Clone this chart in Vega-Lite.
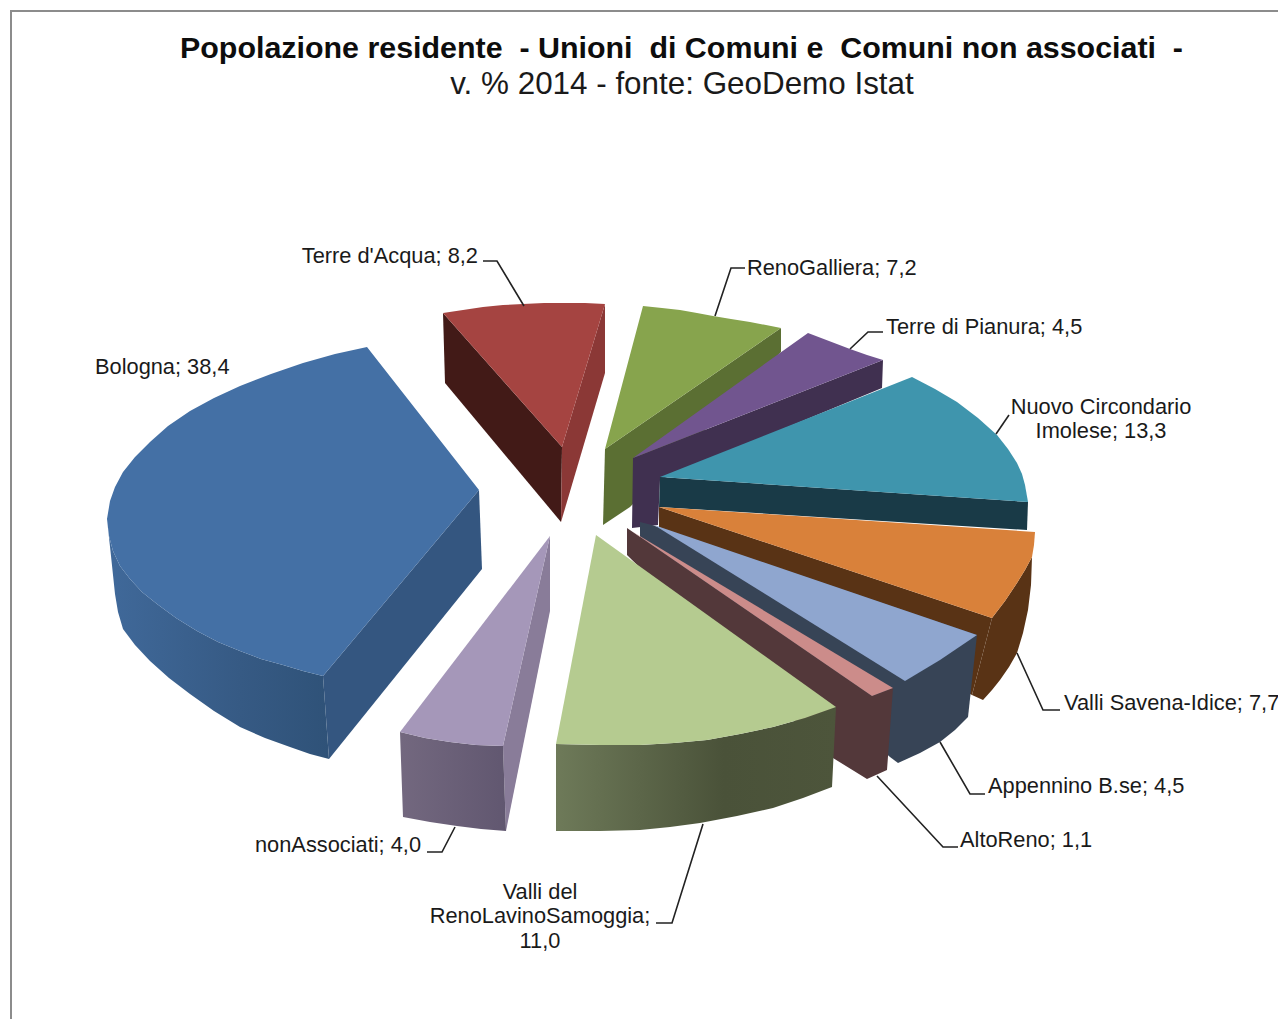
{
  "$schema": "https://vega.github.io/schema/vega-lite/v6.json",
  "width": 1278,
  "height": 1019,
  "padding": 0,
  "autosize": "none",
  "background": "white",
  "view": {"stroke": null},
  "datasets": {
    "faces": [
      {"face":"Terre d'Acqua lato","seq":1,"x":443,"y":313},{"face":"Terre d'Acqua lato","seq":2,"x":562,"y":447},{"face":"Terre d'Acqua lato","seq":3,"x":561,"y":522},{"face":"Terre d'Acqua lato","seq":4,"x":445,"y":383},
      {"face":"Terre d'Acqua taglio","seq":1,"x":605,"y":304},{"face":"Terre d'Acqua taglio","seq":2,"x":562,"y":447},{"face":"Terre d'Acqua taglio","seq":3,"x":561,"y":522},{"face":"Terre d'Acqua taglio","seq":4,"x":605,"y":373},
      {"face":"Terre d'Acqua","seq":1,"x":443,"y":313},{"face":"Terre d'Acqua","seq":2,"x":463,"y":310},{"face":"Terre d'Acqua","seq":3,"x":483,"y":307},{"face":"Terre d'Acqua","seq":4,"x":503,"y":305},{"face":"Terre d'Acqua","seq":5,"x":523,"y":304},{"face":"Terre d'Acqua","seq":6,"x":544,"y":303},{"face":"Terre d'Acqua","seq":7,"x":565,"y":303},{"face":"Terre d'Acqua","seq":8,"x":585,"y":303},{"face":"Terre d'Acqua","seq":9,"x":605,"y":304},{"face":"Terre d'Acqua","seq":10,"x":562,"y":447},

      {"face":"RenoGalliera lato","seq":1,"x":605,"y":449},{"face":"RenoGalliera lato","seq":2,"x":781,"y":328},{"face":"RenoGalliera lato","seq":3,"x":781,"y":352},{"face":"RenoGalliera lato","seq":4,"x":630,"y":507},{"face":"RenoGalliera lato","seq":5,"x":603,"y":525},
      {"face":"RenoGalliera","seq":1,"x":643,"y":306},{"face":"RenoGalliera","seq":2,"x":662,"y":308},{"face":"RenoGalliera","seq":3,"x":680,"y":310},{"face":"RenoGalliera","seq":4,"x":697,"y":313},{"face":"RenoGalliera","seq":5,"x":713,"y":316},{"face":"RenoGalliera","seq":6,"x":731,"y":319},{"face":"RenoGalliera","seq":7,"x":750,"y":322},{"face":"RenoGalliera","seq":8,"x":766,"y":325},{"face":"RenoGalliera","seq":9,"x":781,"y":328},{"face":"RenoGalliera","seq":10,"x":605,"y":449},

      {"face":"Terre di Pianura lato","seq":1,"x":633,"y":458},{"face":"Terre di Pianura lato","seq":2,"x":883,"y":360},{"face":"Terre di Pianura lato","seq":3,"x":882,"y":388},{"face":"Terre di Pianura lato","seq":4,"x":660,"y":480},{"face":"Terre di Pianura lato","seq":5,"x":658,"y":525},{"face":"Terre di Pianura lato","seq":6,"x":632,"y":528},
      {"face":"Terre di Pianura","seq":1,"x":808,"y":333},{"face":"Terre di Pianura","seq":2,"x":829,"y":341},{"face":"Terre di Pianura","seq":3,"x":850,"y":349},{"face":"Terre di Pianura","seq":4,"x":867,"y":355},{"face":"Terre di Pianura","seq":5,"x":883,"y":360},{"face":"Terre di Pianura","seq":6,"x":633,"y":458},

      {"face":"Imolese lato","seq":1,"x":660,"y":477},{"face":"Imolese lato","seq":2,"x":1028,"y":502},{"face":"Imolese lato","seq":3,"x":1027,"y":530},{"face":"Imolese lato","seq":4,"x":659,"y":507},
      {"face":"Imolese","seq":1,"x":912,"y":377},{"face":"Imolese","seq":2,"x":935,"y":389},{"face":"Imolese","seq":3,"x":957,"y":402},{"face":"Imolese","seq":4,"x":978,"y":418},{"face":"Imolese","seq":5,"x":997,"y":435},{"face":"Imolese","seq":6,"x":1008,"y":449},{"face":"Imolese","seq":7,"x":1017,"y":463},{"face":"Imolese","seq":8,"x":1022,"y":474},{"face":"Imolese","seq":9,"x":1025,"y":485},{"face":"Imolese","seq":10,"x":1028,"y":502},{"face":"Imolese","seq":11,"x":660,"y":477},

      {"face":"Savena lato","seq":1,"x":659,"y":507},{"face":"Savena lato","seq":2,"x":992,"y":618},{"face":"Savena lato","seq":3,"x":972,"y":695},{"face":"Savena lato","seq":4,"x":659,"y":527},
      {"face":"Savena bordo","seq":1,"x":992,"y":618},{"face":"Savena bordo","seq":2,"x":1005,"y":601},{"face":"Savena bordo","seq":3,"x":1017,"y":583},{"face":"Savena bordo","seq":4,"x":1025,"y":570},{"face":"Savena bordo","seq":5,"x":1032,"y":557},{"face":"Savena bordo","seq":6,"x":1031,"y":585},{"face":"Savena bordo","seq":7,"x":1028,"y":610},{"face":"Savena bordo","seq":8,"x":1023,"y":633},{"face":"Savena bordo","seq":9,"x":1017,"y":653},{"face":"Savena bordo","seq":10,"x":1009,"y":667},{"face":"Savena bordo","seq":11,"x":1000,"y":680},{"face":"Savena bordo","seq":12,"x":992,"y":690},{"face":"Savena bordo","seq":13,"x":983,"y":700},{"face":"Savena bordo","seq":14,"x":972,"y":695},
      {"face":"Savena","seq":1,"x":659,"y":507},{"face":"Savena","seq":2,"x":1035,"y":532},{"face":"Savena","seq":3,"x":1034,"y":545},{"face":"Savena","seq":4,"x":1032,"y":557},{"face":"Savena","seq":5,"x":1025,"y":570},{"face":"Savena","seq":6,"x":1017,"y":583},{"face":"Savena","seq":7,"x":1005,"y":601},{"face":"Savena","seq":8,"x":992,"y":618},

      {"face":"Appennino lato","seq":1,"x":640,"y":522},{"face":"Appennino lato","seq":2,"x":652,"y":525},{"face":"Appennino lato","seq":3,"x":977,"y":635},{"face":"Appennino lato","seq":4,"x":968,"y":717},{"face":"Appennino lato","seq":5,"x":955,"y":730},{"face":"Appennino lato","seq":6,"x":940,"y":742},{"face":"Appennino lato","seq":7,"x":920,"y":753},{"face":"Appennino lato","seq":8,"x":898,"y":763},{"face":"Appennino lato","seq":9,"x":890,"y":757},{"face":"Appennino lato","seq":10,"x":640,"y":540},
      {"face":"Appennino","seq":1,"x":654,"y":525},{"face":"Appennino","seq":2,"x":977,"y":635},{"face":"Appennino","seq":3,"x":940,"y":660},{"face":"Appennino","seq":4,"x":905,"y":681},

      {"face":"AltoReno lato","seq":1,"x":627,"y":528},{"face":"AltoReno lato","seq":2,"x":872,"y":696},{"face":"AltoReno lato","seq":3,"x":893,"y":688},{"face":"AltoReno lato","seq":4,"x":887,"y":770},{"face":"AltoReno lato","seq":5,"x":867,"y":779},{"face":"AltoReno lato","seq":6,"x":833,"y":758},{"face":"AltoReno lato","seq":7,"x":627,"y":555},
      {"face":"AltoReno","seq":1,"x":633,"y":532},{"face":"AltoReno","seq":2,"x":893,"y":688},{"face":"AltoReno","seq":3,"x":872,"y":696},

      {"face":"Samoggia lato","seq":1,"x":556,"y":744},{"face":"Samoggia lato","seq":2,"x":600,"y":745},{"face":"Samoggia lato","seq":3,"x":640,"y":745},{"face":"Samoggia lato","seq":4,"x":674,"y":743},{"face":"Samoggia lato","seq":5,"x":707,"y":740},{"face":"Samoggia lato","seq":6,"x":740,"y":734},{"face":"Samoggia lato","seq":7,"x":773,"y":727},{"face":"Samoggia lato","seq":8,"x":805,"y":718},{"face":"Samoggia lato","seq":9,"x":836,"y":707},{"face":"Samoggia lato","seq":10,"x":832,"y":787},{"face":"Samoggia lato","seq":11,"x":803,"y":798},{"face":"Samoggia lato","seq":12,"x":773,"y":808},{"face":"Samoggia lato","seq":13,"x":737,"y":816},{"face":"Samoggia lato","seq":14,"x":700,"y":823},{"face":"Samoggia lato","seq":15,"x":670,"y":827},{"face":"Samoggia lato","seq":16,"x":640,"y":830},{"face":"Samoggia lato","seq":17,"x":600,"y":831},{"face":"Samoggia lato","seq":18,"x":556,"y":831},
      {"face":"Samoggia","seq":1,"x":596,"y":535},{"face":"Samoggia","seq":2,"x":836,"y":707},{"face":"Samoggia","seq":3,"x":805,"y":718},{"face":"Samoggia","seq":4,"x":773,"y":727},{"face":"Samoggia","seq":5,"x":740,"y":734},{"face":"Samoggia","seq":6,"x":707,"y":740},{"face":"Samoggia","seq":7,"x":674,"y":743},{"face":"Samoggia","seq":8,"x":640,"y":745},{"face":"Samoggia","seq":9,"x":600,"y":745},{"face":"Samoggia","seq":10,"x":556,"y":744},

      {"face":"nonAssociati taglio","seq":1,"x":550,"y":536},{"face":"nonAssociati taglio","seq":2,"x":503,"y":746},{"face":"nonAssociati taglio","seq":3,"x":506,"y":831},{"face":"nonAssociati taglio","seq":4,"x":550,"y":611},
      {"face":"nonAssociati lato","seq":1,"x":400,"y":732},{"face":"nonAssociati lato","seq":2,"x":425,"y":738},{"face":"nonAssociati lato","seq":3,"x":450,"y":742},{"face":"nonAssociati lato","seq":4,"x":476,"y":745},{"face":"nonAssociati lato","seq":5,"x":503,"y":746},{"face":"nonAssociati lato","seq":6,"x":506,"y":831},{"face":"nonAssociati lato","seq":7,"x":481,"y":829},{"face":"nonAssociati lato","seq":8,"x":457,"y":826},{"face":"nonAssociati lato","seq":9,"x":430,"y":822},{"face":"nonAssociati lato","seq":10,"x":403,"y":817},
      {"face":"nonAssociati","seq":1,"x":550,"y":536},{"face":"nonAssociati","seq":2,"x":503,"y":746},{"face":"nonAssociati","seq":3,"x":476,"y":745},{"face":"nonAssociati","seq":4,"x":450,"y":742},{"face":"nonAssociati","seq":5,"x":425,"y":738},{"face":"nonAssociati","seq":6,"x":400,"y":732},

      {"face":"Bologna taglio","seq":1,"x":323,"y":676},{"face":"Bologna taglio","seq":2,"x":479,"y":490},{"face":"Bologna taglio","seq":3,"x":482,"y":569},{"face":"Bologna taglio","seq":4,"x":329,"y":759},
      {"face":"Bologna lato","seq":1,"x":107,"y":519},{"face":"Bologna lato","seq":2,"x":109,"y":536},{"face":"Bologna lato","seq":3,"x":113,"y":551},{"face":"Bologna lato","seq":4,"x":120,"y":566},{"face":"Bologna lato","seq":5,"x":130,"y":579},{"face":"Bologna lato","seq":6,"x":142,"y":592},{"face":"Bologna lato","seq":7,"x":157,"y":604},{"face":"Bologna lato","seq":8,"x":176,"y":618},{"face":"Bologna lato","seq":9,"x":197,"y":631},{"face":"Bologna lato","seq":10,"x":218,"y":642},{"face":"Bologna lato","seq":11,"x":240,"y":651},{"face":"Bologna lato","seq":12,"x":261,"y":659},{"face":"Bologna lato","seq":13,"x":283,"y":665},{"face":"Bologna lato","seq":14,"x":303,"y":671},{"face":"Bologna lato","seq":15,"x":323,"y":676},{"face":"Bologna lato","seq":16,"x":329,"y":759},{"face":"Bologna lato","seq":17,"x":310,"y":754},{"face":"Bologna lato","seq":18,"x":290,"y":747},{"face":"Bologna lato","seq":19,"x":265,"y":738},{"face":"Bologna lato","seq":20,"x":240,"y":727},{"face":"Bologna lato","seq":21,"x":214,"y":711},{"face":"Bologna lato","seq":22,"x":190,"y":694},{"face":"Bologna lato","seq":23,"x":169,"y":678},{"face":"Bologna lato","seq":24,"x":150,"y":661},{"face":"Bologna lato","seq":25,"x":135,"y":645},{"face":"Bologna lato","seq":26,"x":123,"y":629},{"face":"Bologna lato","seq":27,"x":118,"y":612},{"face":"Bologna lato","seq":28,"x":115,"y":594},{"face":"Bologna lato","seq":29,"x":111,"y":556},
      {"face":"Bologna","seq":1,"x":367,"y":347},{"face":"Bologna","seq":2,"x":335,"y":354},{"face":"Bologna","seq":3,"x":303,"y":363},{"face":"Bologna","seq":4,"x":271,"y":374},{"face":"Bologna","seq":5,"x":240,"y":386},{"face":"Bologna","seq":6,"x":214,"y":398},{"face":"Bologna","seq":7,"x":190,"y":411},{"face":"Bologna","seq":8,"x":168,"y":426},{"face":"Bologna","seq":9,"x":150,"y":442},{"face":"Bologna","seq":10,"x":135,"y":457},{"face":"Bologna","seq":11,"x":123,"y":472},{"face":"Bologna","seq":12,"x":115,"y":487},{"face":"Bologna","seq":13,"x":110,"y":501},{"face":"Bologna","seq":14,"x":107,"y":519},{"face":"Bologna","seq":15,"x":109,"y":536},{"face":"Bologna","seq":16,"x":113,"y":551},{"face":"Bologna","seq":17,"x":120,"y":566},{"face":"Bologna","seq":18,"x":130,"y":579},{"face":"Bologna","seq":19,"x":142,"y":592},{"face":"Bologna","seq":20,"x":157,"y":604},{"face":"Bologna","seq":21,"x":176,"y":618},{"face":"Bologna","seq":22,"x":197,"y":631},{"face":"Bologna","seq":23,"x":218,"y":642},{"face":"Bologna","seq":24,"x":240,"y":651},{"face":"Bologna","seq":25,"x":261,"y":659},{"face":"Bologna","seq":26,"x":283,"y":665},{"face":"Bologna","seq":27,"x":303,"y":671},{"face":"Bologna","seq":28,"x":323,"y":676},{"face":"Bologna","seq":29,"x":479,"y":490}
    ],
    "leaders": [
      {"slice":"Terre d'Acqua","seq":1,"x":483,"y":261},{"slice":"Terre d'Acqua","seq":2,"x":497,"y":261},{"slice":"Terre d'Acqua","seq":3,"x":524,"y":306},
      {"slice":"RenoGalliera","seq":1,"x":745,"y":268},{"slice":"RenoGalliera","seq":2,"x":731,"y":268},{"slice":"RenoGalliera","seq":3,"x":715,"y":316},
      {"slice":"Terre di Pianura","seq":1,"x":883,"y":332},{"slice":"Terre di Pianura","seq":2,"x":868,"y":332},{"slice":"Terre di Pianura","seq":3,"x":850,"y":349},
      {"slice":"Nuovo Circondario Imolese","seq":1,"x":1009,"y":415},{"slice":"Nuovo Circondario Imolese","seq":2,"x":996,"y":434},
      {"slice":"Valli Savena-Idice","seq":1,"x":1017,"y":653},{"slice":"Valli Savena-Idice","seq":2,"x":1043,"y":710},{"slice":"Valli Savena-Idice","seq":3,"x":1060,"y":710},
      {"slice":"Appennino B.se","seq":1,"x":940,"y":742},{"slice":"Appennino B.se","seq":2,"x":970,"y":794},{"slice":"Appennino B.se","seq":3,"x":985,"y":794},
      {"slice":"AltoReno","seq":1,"x":877,"y":776},{"slice":"AltoReno","seq":2,"x":943,"y":847},{"slice":"AltoReno","seq":3,"x":958,"y":847},
      {"slice":"Valli del RenoLavinoSamoggia","seq":1,"x":703,"y":824},{"slice":"Valli del RenoLavinoSamoggia","seq":2,"x":672,"y":923},{"slice":"Valli del RenoLavinoSamoggia","seq":3,"x":656,"y":923},
      {"slice":"nonAssociati","seq":1,"x":455,"y":827},{"slice":"nonAssociati","seq":2,"x":442,"y":852},{"slice":"nonAssociati","seq":3,"x":427,"y":852}
    ],
    "labels": [
      {"text":"Terre d'Acqua; 8,2","x":478,"y":256,"anchor":"right"},
      {"text":"RenoGalliera; 7,2","x":747,"y":268,"anchor":"left"},
      {"text":"Terre di Pianura; 4,5","x":886,"y":327,"anchor":"left"},
      {"text":"Nuovo Circondario","x":1101,"y":407,"anchor":"center"},
      {"text":"Imolese; 13,3","x":1101,"y":431,"anchor":"center"},
      {"text":"Valli Savena-Idice; 7,7","x":1064,"y":703,"anchor":"left"},
      {"text":"Appennino B.se; 4,5","x":988,"y":786,"anchor":"left"},
      {"text":"AltoReno; 1,1","x":960,"y":840,"anchor":"left"},
      {"text":"Valli del","x":540,"y":892,"anchor":"center"},
      {"text":"RenoLavinoSamoggia;","x":540,"y":916,"anchor":"center"},
      {"text":"11,0","x":540,"y":941,"anchor":"center"},
      {"text":"nonAssociati; 4,0","x":421,"y":845,"anchor":"right"},
      {"text":"Bologna; 38,4","x":95,"y":367,"anchor":"left"}
    ]
  },
  "encoding": {
    "x": {"field":"x","type":"quantitative","scale":{"domain":[0,1278]},"axis":null},
    "y": {"field":"y","type":"quantitative","scale":{"domain":[1019,0]},"axis":null}
  },
  "layer": [
    {
      "data": {"values":[{"x":1278,"y":11,"seq":1},{"x":11,"y":11,"seq":2},{"x":11,"y":1019,"seq":3}]},
      "mark": {"type":"line","stroke":"#8c8c8c","strokeWidth":2},
      "encoding": {"order":{"field":"seq","type":"quantitative"}}
    },
    {
      "data": {"name":"faces"},
      "transform": [{"filter":{"field":"face","oneOf":["Terre d'Acqua lato","Terre d'Acqua taglio","Terre d'Acqua","RenoGalliera lato","RenoGalliera","Terre di Pianura lato","Terre di Pianura","Imolese lato","Imolese","Savena lato","Savena bordo","Savena","Appennino lato","Appennino","AltoReno lato","AltoReno"]}}],
      "mark": {"type":"line","filled":true,"strokeWidth":0,"interpolate":"linear-closed"},
      "encoding": {
        "detail": {"field":"face"},
        "order": {"field":"seq","type":"quantitative"},
        "fill": {
          "field":"face","type":"nominal","legend":null,
          "scale":{
            "domain":["Terre d'Acqua lato","Terre d'Acqua taglio","Terre d'Acqua","RenoGalliera lato","RenoGalliera","Terre di Pianura lato","Terre di Pianura","Imolese lato","Imolese","Savena lato","Savena bordo","Savena","Appennino lato","Appennino","AltoReno lato","AltoReno"],
            "range":["#421A17","#8B3836","#A54441","#5B6F33","#87A44D","#403050","#71558F","#193A47","#3F95AD","#593315","#593315","#D9813A","#374456","#8FA6CF","#53383A","#CC8C8A"]
          }
        }
      }
    },
    {
      "data": {"name":"faces"},
      "transform": [{"filter":"datum.face === 'Samoggia lato'"}],
      "mark": {"type":"line","filled":true,"strokeWidth":0,"interpolate":"linear-closed",
        "fill":{"gradient":"linear","x1":0,"x2":1,"y1":0,"y2":0,"stops":[{"offset":0,"color":"#6E7A59"},{"offset":0.6,"color":"#4A5239"},{"offset":1,"color":"#4D553B"}]}},
      "encoding": {"order":{"field":"seq","type":"quantitative"}}
    },
    {
      "data": {"name":"faces"},
      "transform": [{"filter":"datum.face === 'Samoggia'"}],
      "mark": {"type":"line","filled":true,"strokeWidth":0,"interpolate":"linear-closed","fill":"#B5CB90"},
      "encoding": {"order":{"field":"seq","type":"quantitative"}}
    },
    {
      "data": {"name":"faces"},
      "transform": [{"filter":"datum.face === 'nonAssociati taglio'"}],
      "mark": {"type":"line","filled":true,"strokeWidth":0,"interpolate":"linear-closed","fill":"#897C99"},
      "encoding": {"order":{"field":"seq","type":"quantitative"}}
    },
    {
      "data": {"name":"faces"},
      "transform": [{"filter":"datum.face === 'nonAssociati lato'"}],
      "mark": {"type":"line","filled":true,"strokeWidth":0,"interpolate":"linear-closed",
        "fill":{"gradient":"linear","x1":0,"x2":1,"y1":0,"y2":0,"stops":[{"offset":0,"color":"#73687F"},{"offset":1,"color":"#615770"}]}},
      "encoding": {"order":{"field":"seq","type":"quantitative"}}
    },
    {
      "data": {"name":"faces"},
      "transform": [{"filter":"datum.face === 'nonAssociati'"}],
      "mark": {"type":"line","filled":true,"strokeWidth":0,"interpolate":"linear-closed","fill":"#A597B9"},
      "encoding": {"order":{"field":"seq","type":"quantitative"}}
    },
    {
      "data": {"name":"faces"},
      "transform": [{"filter":"datum.face === 'Bologna taglio'"}],
      "mark": {"type":"line","filled":true,"strokeWidth":0,"interpolate":"linear-closed","fill":"#345680"},
      "encoding": {"order":{"field":"seq","type":"quantitative"}}
    },
    {
      "data": {"name":"faces"},
      "transform": [{"filter":"datum.face === 'Bologna lato'"}],
      "mark": {"type":"line","filled":true,"strokeWidth":0,"interpolate":"linear-closed",
        "fill":{"gradient":"linear","x1":0,"x2":1,"y1":0,"y2":0,"stops":[{"offset":0,"color":"#40699A"},{"offset":0.6,"color":"#365A84"},{"offset":1,"color":"#2F5278"}]}},
      "encoding": {"order":{"field":"seq","type":"quantitative"}}
    },
    {
      "data": {"name":"faces"},
      "transform": [{"filter":"datum.face === 'Bologna'"}],
      "mark": {"type":"line","filled":true,"strokeWidth":0,"interpolate":"linear-closed","fill":"#4470A5"},
      "encoding": {"order":{"field":"seq","type":"quantitative"}}
    },
    {
      "data": {"name":"leaders"},
      "mark": {"type":"line","stroke":"#222222","strokeWidth":1.6},
      "encoding": {"detail":{"field":"slice"},"order":{"field":"seq","type":"quantitative"}}
    },
    {
      "data": {"name":"labels"},
      "transform": [{"filter":"datum.anchor === 'left'"}],
      "mark": {"type":"text","align":"left","baseline":"middle","font":"Liberation Sans","fontSize":21.8,"fill":"#1a1a1a"},
      "encoding": {"text":{"field":"text"}}
    },
    {
      "data": {"name":"labels"},
      "transform": [{"filter":"datum.anchor === 'right'"}],
      "mark": {"type":"text","align":"right","baseline":"middle","font":"Liberation Sans","fontSize":21.8,"fill":"#1a1a1a"},
      "encoding": {"text":{"field":"text"}}
    },
    {
      "data": {"name":"labels"},
      "transform": [{"filter":"datum.anchor === 'center'"}],
      "mark": {"type":"text","align":"center","baseline":"middle","font":"Liberation Sans","fontSize":21.8,"fill":"#1a1a1a"},
      "encoding": {"text":{"field":"text"}}
    },
    {
      "data": {"values":[{"text":"Popolazione residente\u00a0 - Unioni\u00a0 di Comuni e\u00a0 Comuni non associati\u00a0 -","x":681.5,"y":49}]},
      "mark": {"type":"text","align":"center","baseline":"middle","font":"Liberation Sans","fontSize":30.4,"fontWeight":"bold","fill":"#0d0d0d"},
      "encoding": {"text":{"field":"text"}}
    },
    {
      "data": {"values":[{"text":"v. % 2014 - fonte: GeoDemo Istat","x":682,"y":85}]},
      "mark": {"type":"text","align":"center","baseline":"middle","font":"Liberation Sans","fontSize":31.4,"fill":"#1a1a1a"},
      "encoding": {"text":{"field":"text"}}
    }
  ]
}
